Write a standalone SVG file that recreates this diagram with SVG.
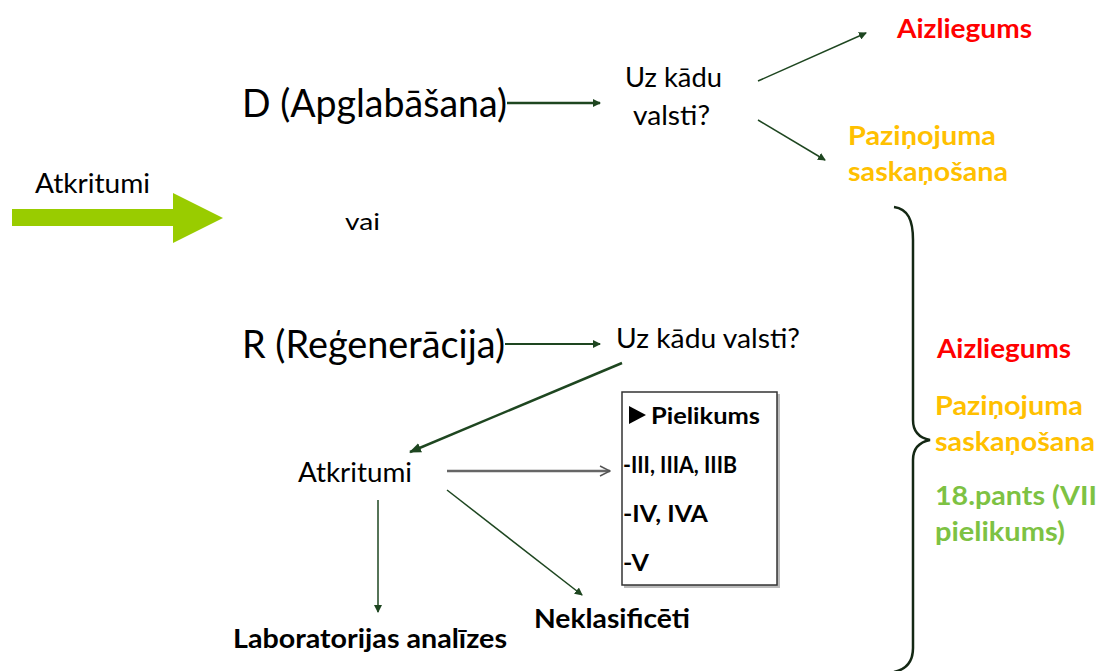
<svg xmlns="http://www.w3.org/2000/svg" width="1099" height="671" viewBox="0 0 1099 671">
<style>
text{font-family:Lato,"Liberation Sans",sans-serif;fill:#000}
.lg{font-size:38px}
.md{font-size:26px}
.bx{font-size:22px;font-weight:bold}
.b{font-weight:bold}
.red{fill:#FF0000}
.org{fill:#FFC000}
.grn{fill:#7DC243}
.c{fill:none;stroke:#1E4620}
</style>
<defs>
<marker id="ah" markerWidth="8" markerHeight="8" refX="7" refY="4" orient="auto" markerUnits="userSpaceOnUse" viewBox="0 0 8 8">
<path d="M0,0 L8,4 L0,8 Z" fill="#1E4620"/>
</marker>
<marker id="ahb" markerWidth="12" markerHeight="10" refX="11" refY="5" orient="auto" markerUnits="userSpaceOnUse" viewBox="0 0 12 10">
<path d="M0,0 L12,5 L0,10 Z" fill="#1E4620"/>
</marker>
<marker id="open" markerWidth="12" markerHeight="12" refX="11" refY="6" orient="auto" markerUnits="userSpaceOnUse" viewBox="0 0 12 12">
<path d="M1,1 L11,6 L1,11" fill="none" stroke="#555" stroke-width="1.5"/>
</marker>
</defs>
<rect width="1099" height="671" fill="#fff"/>
<g id="input">
<path d="M12,209 H173 V193 L223,218 L173,243 V226 H12 Z" fill="#99CC00"/>
<text class="md" x="35" y="193" textLength="115" lengthAdjust="spacingAndGlyphs">Atkritumi</text>
</g>
<g id="vai"><text x="345" y="230" style="font-size:24px" textLength="35" lengthAdjust="spacingAndGlyphs">vai</text></g>
<g id="d-node"><text class="lg" x="242" y="117" textLength="265" lengthAdjust="spacingAndGlyphs">D (Apglabāšana)</text></g>
<g id="d-q"><text class="md" x="625" y="87" textLength="97" lengthAdjust="spacingAndGlyphs">Uz kādu</text><text class="md" x="633" y="125" textLength="77" lengthAdjust="spacingAndGlyphs">valsti?</text></g>
<g id="d-ban"><text class="md b red" x="897" y="38" textLength="135" lengthAdjust="spacingAndGlyphs">Aizliegums</text></g>
<g id="d-notif"><text class="md b org" x="848" y="145" textLength="148" lengthAdjust="spacingAndGlyphs">Paziņojuma</text><text class="md b org" x="848" y="181" textLength="160" lengthAdjust="spacingAndGlyphs">saskaņošana</text></g>
<g id="r-node"><text class="lg" x="242" y="358" textLength="263" lengthAdjust="spacingAndGlyphs">R (Reģenerācija)</text></g>
<g id="r-q"><text class="md" x="616" y="348" textLength="184" lengthAdjust="spacingAndGlyphs">Uz kādu valsti?</text></g>
<g id="r-waste"><text class="md" x="298" y="482" textLength="114" lengthAdjust="spacingAndGlyphs">Atkritumi</text></g>
<g id="annex-box">
<rect x="624" y="394" width="156" height="194" fill="#bbb"/>
<rect x="622" y="392" width="155" height="193" fill="#fff" stroke="#333" stroke-width="1.5"/>
<path d="M629,406 L646,415 L629,424 Z" fill="#000"/>
<text class="bx" x="651" y="424" textLength="109" lengthAdjust="spacingAndGlyphs">Pielikums</text>
<text class="bx" x="623" y="473" textLength="114" lengthAdjust="spacingAndGlyphs">-III, IIIA, IIIB</text>
<text class="bx" x="623" y="522" textLength="85" lengthAdjust="spacingAndGlyphs">-IV, IVA</text>
<text class="bx" x="623" y="571" textLength="26" lengthAdjust="spacingAndGlyphs">-V</text>
</g>
<g id="lab"><text class="md b" x="233" y="648" textLength="274" lengthAdjust="spacingAndGlyphs">Laboratorijas analīzes</text></g>
<g id="unclassified"><text class="md b" x="534" y="628" textLength="156" lengthAdjust="spacingAndGlyphs">Neklasificēti</text></g>
<g id="r-results">
<text class="md b red" x="937" y="358" textLength="134" lengthAdjust="spacingAndGlyphs">Aizliegums</text>
<text class="md b org" x="935" y="415" textLength="148" lengthAdjust="spacingAndGlyphs">Paziņojuma</text>
<text class="md b org" x="935" y="451" textLength="160" lengthAdjust="spacingAndGlyphs">saskaņošana</text>
<text class="md b grn" x="935" y="505" textLength="162" lengthAdjust="spacingAndGlyphs">18.pants (VII</text>
<text class="md b grn" x="935" y="541" textLength="130" lengthAdjust="spacingAndGlyphs">pielikums)</text>
</g>
<g id="connectors">
<line class="c" x1="507" y1="103" x2="600" y2="103" stroke-width="2.5" marker-end="url(#ah)"/>
<line class="c" x1="758" y1="81" x2="866" y2="33" stroke-width="1.5" marker-end="url(#ah)"/>
<line class="c" x1="758" y1="120" x2="825" y2="160" stroke-width="1.5" marker-end="url(#ah)"/>
<line class="c" x1="505" y1="344" x2="600" y2="344" stroke-width="2" marker-end="url(#ah)"/>
<line class="c" x1="622" y1="363" x2="410" y2="452" stroke-width="2.5" marker-end="url(#ahb)"/>
<line x1="447" y1="471" x2="610" y2="471" stroke="#666" stroke-width="2.5" marker-end="url(#open)"/>
<line class="c" x1="447" y1="490" x2="582" y2="595" stroke-width="1.5" marker-end="url(#ah)"/>
<line class="c" x1="378" y1="500" x2="378" y2="612" stroke-width="1.5" marker-end="url(#ah)"/>
<path d="M894,207 C908,209 913,220 913,240 V420 C913,432 920,438 930,440 C920,442 913,448 913,460 V648 C913,660 908,669 894,672" fill="none" stroke="#142814" stroke-width="2.5"/>
</g>
</svg>
